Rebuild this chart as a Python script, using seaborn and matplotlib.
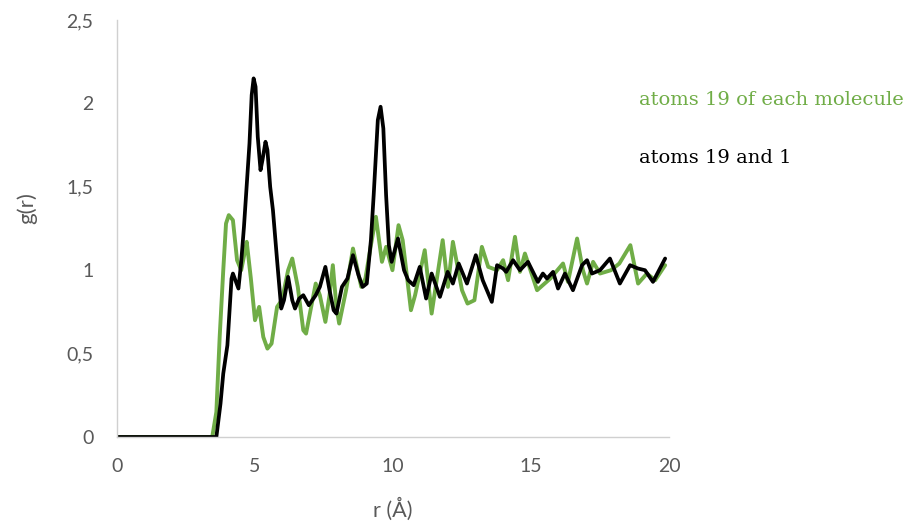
import matplotlib
matplotlib.use("Agg")
import matplotlib.pyplot as plt
import seaborn as sns
import pandas as pd

# ---- data ----
r_green = [0, 3.45, 3.6, 3.72, 3.85, 3.95, 4.05, 4.2, 4.35, 4.5, 4.62, 4.7, 4.85, 5.0, 5.15,
           5.3, 5.45, 5.6, 5.8, 5.97, 6.05, 6.2, 6.35, 6.55, 6.75, 6.85, 7.0, 7.2, 7.35, 7.55,
           7.7, 7.82, 7.95, 8.05, 8.3, 8.55, 8.85, 9.0, 9.2, 9.38, 9.6, 9.75, 9.98, 10.2,
           10.35, 10.55, 10.65, 10.8, 11.15, 11.4, 11.8, 11.99, 12.17, 12.5, 12.7, 12.95,
           13.22, 13.45, 13.77, 13.99, 14.17, 14.42, 14.6, 14.78, 15.22, 15.7, 16.16, 16.34,
           16.67, 16.88, 17.03, 17.25, 17.5, 17.9, 18.2, 18.6, 18.88, 19.2, 19.5, 19.86]
g_green = [0, 0, 0.15, 0.6, 1.0, 1.28, 1.33, 1.3, 1.06, 1.0, 1.1, 1.17, 0.95, 0.70, 0.78,
           0.6, 0.53, 0.56, 0.78, 0.82, 0.88, 1.0, 1.07, 0.9, 0.64, 0.62, 0.75, 0.92, 0.85, 0.69,
           0.85, 1.03, 0.78, 0.68, 0.88, 1.13, 0.9, 0.95, 1.15, 1.32, 1.05, 1.14, 1.0, 1.27,
           1.18, 0.9, 0.76, 0.85, 1.12, 0.74, 1.18, 0.9, 1.17, 0.88, 0.80, 0.82,
           1.14, 1.02, 1.0, 1.06, 0.94, 1.2, 0.99, 1.1, 0.88, 0.95, 1.04, 0.93,
           1.19, 1.0, 0.92, 1.05, 0.98, 1.0, 1.04, 1.15, 0.92, 0.98, 0.94, 1.03]

r_black = [0, 3.6, 3.75, 3.85, 4.0, 4.15, 4.2, 4.4, 4.5, 4.6, 4.8, 4.88, 4.95, 5.02, 5.1,
           5.2, 5.27, 5.38, 5.45, 5.55, 5.65, 5.8, 5.95, 6.05, 6.2, 6.35, 6.45, 6.6, 6.75, 6.95,
           7.2, 7.35, 7.55, 7.7, 7.85, 7.95, 8.15, 8.35, 8.55, 8.75, 8.9, 9.05, 9.2, 9.3, 9.45,
           9.55, 9.65, 9.75, 9.85, 9.95, 10.18, 10.4, 10.55, 10.75, 10.97, 11.2, 11.4, 11.7, 11.98,
           12.17, 12.38, 12.68, 13.0, 13.25, 13.58, 13.77, 13.99, 14.1, 14.35, 14.6, 14.89,
           15.25, 15.43, 15.58, 15.8, 15.98, 16.23, 16.52, 16.85, 17.03, 17.21, 17.5, 17.86,
           18.22, 18.59, 18.88, 19.13, 19.42, 19.86]
g_black = [0, 0, 0.2, 0.38, 0.55, 0.95, 0.98, 0.89, 1.05, 1.26, 1.76, 2.05, 2.15, 2.1, 1.8,
           1.6, 1.66, 1.77, 1.72, 1.5, 1.36, 1.06, 0.77, 0.82, 0.96, 0.82, 0.77, 0.83, 0.85, 0.79,
           0.85, 0.9, 1.02, 0.88, 0.76, 0.74, 0.9, 0.95, 1.09, 0.97, 0.90, 0.92, 1.18, 1.45, 1.9,
           1.98, 1.85, 1.45, 1.15, 1.05, 1.19, 1.0, 0.94, 0.91, 1.02, 0.83, 0.98, 0.84, 0.99,
           0.92, 1.04, 0.92, 1.09, 0.94, 0.81, 1.03, 1.01, 0.99, 1.06, 1.0, 1.05,
           0.93, 0.98, 0.95, 0.99, 0.89, 0.98, 0.88, 1.03, 1.06, 0.98, 1.0, 1.07,
           0.92, 1.03, 1.01, 1.0, 0.93, 1.07]

series_names = ["atoms 19 of each molecule", "atoms 19 and 1"]
series_colors = ["#70ad47", "#000000"]
x_ticks = [0, 5, 10, 15, 20]
x_tick_labels = ["0", "5", "10", "15", "20"]
y_ticks = [0, 0.5, 1, 1.5, 2, 2.5]
y_tick_labels = ["0", "0,5", "1", "1,5", "2", "2,5"]

df_green = pd.DataFrame({"r": r_green, "g": g_green})
df_black = pd.DataFrame({"r": r_black, "g": g_black})

sns.set_theme(style="white")
plt.rcParams["font.family"] = ["Lato", "DejaVu Sans"]

fig = plt.figure(figsize=(9.19, 5.25), dpi=100)
ax = fig.add_axes([117 / 919, 88 / 525, 552 / 919, 417 / 525])

sns.lineplot(data=df_green, x="r", y="g", ax=ax, color=series_colors[0], linewidth=2.8,
             sort=False, estimator=None)
sns.lineplot(data=df_black, x="r", y="g", ax=ax, color=series_colors[1], linewidth=2.7,
             sort=False, estimator=None)
for ln in ax.get_lines():
    ln.set_solid_joinstyle("round")
    ln.set_solid_capstyle("round")

ax.set_xlim(0, 20)
ax.set_ylim(0, 2.5)
ax.set_xticks(x_ticks)
ax.set_xticklabels(x_tick_labels)
ax.set_yticks(y_ticks)
ax.set_yticklabels(y_tick_labels)
ax.tick_params(axis="both", length=0, labelsize=14, colors="#595959")
ax.tick_params(axis="y", pad=17)
ax.tick_params(axis="x", pad=15)

for s in ["top", "right"]:
    ax.spines[s].set_visible(False)
for s in ["left", "bottom"]:
    ax.spines[s].set_color("#d0d0d0")
    ax.spines[s].set_linewidth(1.0)

ax.set_xlabel("r (Å)", fontsize=15.5, color="#595959")
ax.set_ylabel("g(r)", fontsize=16, color="#595959")
ax.xaxis.set_label_coords(0.5, -0.145)
ax.yaxis.set_label_coords(-0.145, 0.55)

fig.text(639 / 919, 1 - 100 / 525, series_names[0], color=series_colors[0],
         fontsize=14, family=["DejaVu Serif"], va="center", ha="left")
fig.text(639 / 919, 1 - 158 / 525, series_names[1], color=series_colors[1],
         fontsize=14, family=["DejaVu Serif"], va="center", ha="left")

fig.savefig("out.png", dpi=100)
